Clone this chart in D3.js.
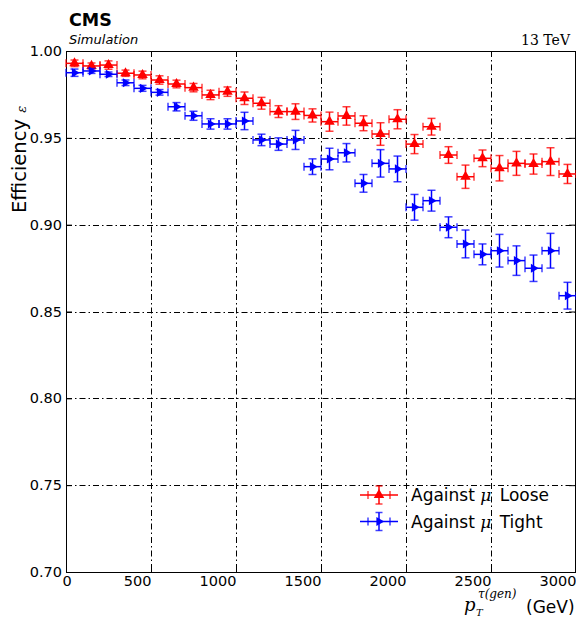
<!DOCTYPE html>
<html>
<head>
<meta charset="utf-8">
<script src="https://d3js.org/d3.v7.min.js"></script>
<style>
  body { margin: 0; background: #fff; }
  svg { font-family: "DejaVu Sans", sans-serif; }
</style>
</head>
<body>
<div id="chart"></div>
<script>
// gen-level tau pT bin centres (GeV) and half bin width
var binCenters = [50, 150, 250, 350, 450, 550, 650, 750, 850, 950,
                  1050, 1150, 1250, 1350, 1450, 1550, 1650, 1750, 1850, 1950,
                  2050, 2150, 2250, 2350, 2450, 2550, 2650, 2750, 2850, 2950];
var binHalfWidth = 50;

// Against mu Loose
var looseEff = [0.9929, 0.9914, 0.9919, 0.9872, 0.9862, 0.9833, 0.9810, 0.9789, 0.9747, 0.9766,
                0.9728, 0.9699, 0.9651, 0.9651, 0.9629, 0.9593, 0.9626, 0.9584, 0.9522, 0.9607,
                0.9464, 0.9564, 0.9401, 0.9276, 0.9382, 0.9325, 0.9353, 0.9349, 0.9363, 0.9292];
var looseErr = [0.0019, 0.0017, 0.0024, 0.0018, 0.0022, 0.0024, 0.0022, 0.0024, 0.0027, 0.0027,
                0.0036, 0.0034, 0.0034, 0.0045, 0.0038, 0.0055, 0.0053, 0.0043, 0.0065, 0.0055,
                0.0055, 0.0048, 0.0048, 0.0067, 0.0048, 0.0073, 0.0069, 0.0058, 0.0080, 0.0055];

// Against mu Tight
var tightEff = [0.9875, 0.9885, 0.9866, 0.9817, 0.9785, 0.9762, 0.9679, 0.9627, 0.9580, 0.9580,
                0.9597, 0.9488, 0.9464, 0.9488, 0.9334, 0.9378, 0.9414, 0.9238, 0.9353, 0.9321,
                0.9100, 0.9138, 0.8985, 0.8889, 0.8829, 0.8850, 0.8793, 0.8749, 0.8850, 0.8591];
var tightErr = [0.0021, 0.0014, 0.0013, 0.0016, 0.0017, 0.0016, 0.0024, 0.0026, 0.0030, 0.0030,
                0.0050, 0.0033, 0.0036, 0.0055, 0.0045, 0.0062, 0.0053, 0.0051, 0.0079, 0.0074,
                0.0074, 0.0060, 0.0060, 0.0080, 0.0060, 0.0094, 0.0085, 0.0076, 0.0100, 0.0077];

var seriesNames = ["Against \u03bc Loose", "Against \u03bc Tight"];
var seriesColors = ["#ff0000", "#0000ff"];

var xTicks = [0, 500, 1000, 1500, 2000, 2500, 3000];
var yTicks = [0.70, 0.75, 0.80, 0.85, 0.90, 0.95, 1.00];

(function () {
    var W = 576, H = 620;
    var pL = 66, pR = 576, pT = 51, pB = 572;

    var svg = d3.select("#chart").append("svg")
        .attr("width", W)
        .attr("height", H);

    var x = d3.scaleLinear().domain([0, 3000]).range([pL, pR]);
    var y = d3.scaleLinear().domain([0.70, 1.00]).range([pB, pT]);

    // grid (dash-dot)
    var grid = svg.append("g").attr("class", "grid")
        .attr("stroke", "#000").attr("stroke-width", 1)
        .attr("stroke-dasharray", "6,3,1.5,3");
    grid.selectAll("line.gx")
        .data(xTicks.slice(1, -1))
        .enter().append("line")
        .attr("class", "gx")
        .attr("x1", function (d) { return Math.round(x(d)) + 0.5; })
        .attr("x2", function (d) { return Math.round(x(d)) + 0.5; })
        .attr("y1", pT).attr("y2", pB);
    grid.selectAll("line.gy")
        .data(yTicks.slice(1, -1))
        .enter().append("line")
        .attr("class", "gy")
        .attr("y1", function (d) { return Math.round(y(d)) + 0.5; })
        .attr("y2", function (d) { return Math.round(y(d)) + 0.5; })
        .attr("x1", pL).attr("x2", pR);

    // axes
    var xAxis = svg.append("g")
        .attr("transform", "translate(0," + pB + ")")
        .call(d3.axisBottom(x).tickValues(xTicks).tickSize(-6).tickPadding(4).tickFormat(d3.format("d")));
    var yAxis = svg.append("g")
        .attr("transform", "translate(" + pL + ",0)")
        .call(d3.axisLeft(y).tickValues(yTicks).tickSize(-6).tickPadding(4).tickFormat(d3.format(".2f")));
    var topAxis = svg.append("g")
        .attr("transform", "translate(0," + pT + ")")
        .call(d3.axisTop(x).tickValues(xTicks).tickSize(-6).tickFormat(""));
    var rightAxis = svg.append("g")
        .attr("transform", "translate(" + (pR - 1) + ",0)")
        .call(d3.axisRight(y).tickValues(yTicks).tickSize(-6).tickFormat(""));

    [xAxis, yAxis, topAxis, rightAxis].forEach(function (a) {
        a.select(".domain").remove();
        a.selectAll("line").attr("stroke", "#000").attr("stroke-width", 1);
        a.selectAll("text")
            .attr("font-family", "DejaVu Sans, sans-serif")
            .attr("font-size", 14.5)
            .attr("fill", "#000");
    });
    xAxis.selectAll("text")
        .attr("text-anchor", function (d) { return d === 0 ? "middle" : "end"; })
        .attr("dx", function (d) { return d === 0 ? 0.5 : 0; });

    // frame
    svg.append("rect")
        .attr("x", pL + 0.5).attr("y", pT + 0.5)
        .attr("width", pR - pL - 1).attr("height", pB - pT)
        .attr("fill", "none").attr("stroke", "#000").attr("stroke-width", 1);

    var upTri = d3.symbol().type(d3.symbolTriangle).size(48)();
    var rightTri = d3.symbol().type(d3.symbolTriangle).size(36)();

    // error bar series
    function drawSeries(vals, errs, color, marker, rot) {
        var g = svg.append("g").attr("stroke", color).attr("fill", color);
        var pts = binCenters.map(function (c, i) { return { x: c, v: vals[i], e: errs[i] }; });
        var cap = 4;
        var pg = g.selectAll("g").data(pts).enter().append("g");
        // horizontal bars
        pg.append("line")
            .attr("x1", function (d) { return x(d.x - binHalfWidth); })
            .attr("x2", function (d) { return x(d.x + binHalfWidth); })
            .attr("y1", function (d) { return y(d.v); })
            .attr("y2", function (d) { return y(d.v); })
            .attr("stroke-width", 1.5);
        // vertical bars
        pg.append("line")
            .attr("x1", function (d) { return x(d.x); })
            .attr("x2", function (d) { return x(d.x); })
            .attr("y1", function (d) { return y(d.v - d.e); })
            .attr("y2", function (d) { return y(d.v + d.e); })
            .attr("stroke-width", 1.5);
        // caps
        [-1, 1].forEach(function (s) {
            pg.append("line")
                .attr("x1", function (d) { return x(d.x) - cap; })
                .attr("x2", function (d) { return x(d.x) + cap; })
                .attr("y1", function (d) { return y(d.v + s * d.e); })
                .attr("y2", function (d) { return y(d.v + s * d.e); })
                .attr("stroke-width", 1.5).attr("stroke-opacity", 0.75);
            pg.append("line")
                .attr("x1", function (d) { return x(d.x + s * binHalfWidth); })
                .attr("x2", function (d) { return x(d.x + s * binHalfWidth); })
                .attr("y1", function (d) { return y(d.v) - cap; })
                .attr("y2", function (d) { return y(d.v) + cap; })
                .attr("stroke-width", 1.5).attr("stroke-opacity", 0.75);
        });
        pg.append("path")
            .attr("d", marker)
            .attr("stroke", "none")
            .attr("transform", function (d) { return "translate(" + x(d.x) + "," + y(d.v) + ")" + (rot ? " rotate(90)" : ""); });
    }

    drawSeries(looseEff, looseErr, seriesColors[0], upTri, false);
    drawSeries(tightEff, tightErr, seriesColors[1], rightTri, true);

    // legend
    var legend = svg.append("g");
    var legendMarkers = [upTri, rightTri];
    seriesNames.forEach(function (name, i) {
        var ly = 495 + i * 26.5, lx = 379;
        var c = seriesColors[i];
        var lg = legend.append("g").attr("stroke", c).attr("fill", c);
        lg.append("line").attr("x1", 360).attr("x2", 398).attr("y1", ly).attr("y2", ly).attr("stroke-width", 1.5);
        lg.append("line").attr("x1", lx).attr("x2", lx).attr("y1", ly - 9).attr("y2", ly + 9).attr("stroke-width", 1.5);
        lg.append("line").attr("x1", lx - 3.5).attr("x2", lx + 3.5).attr("y1", ly - 9).attr("y2", ly - 9).attr("stroke-width", 1.5).attr("stroke-opacity", 0.75);
        lg.append("line").attr("x1", lx - 3.5).attr("x2", lx + 3.5).attr("y1", ly + 9).attr("y2", ly + 9).attr("stroke-width", 1.5).attr("stroke-opacity", 0.75);
        lg.append("line").attr("x1", 368).attr("x2", 368).attr("y1", ly - 4).attr("y2", ly + 4).attr("stroke-width", 1.5).attr("stroke-opacity", 0.75);
        lg.append("line").attr("x1", 390).attr("x2", 390).attr("y1", ly - 4).attr("y2", ly + 4).attr("stroke-width", 1.5).attr("stroke-opacity", 0.75);
        lg.append("path").attr("d", legendMarkers[i]).attr("stroke", "none")
            .attr("transform", "translate(" + lx + "," + ly + ")" + (i === 1 ? " rotate(90)" : ""));

        var parts = name.split("\u03bc");
        var t = legend.append("text")
            .attr("x", 411).attr("y", ly + 6)
            .attr("font-size", 17).attr("fill", "#000")
            .attr("xml:space", "preserve");
        t.append("tspan").text(parts[0]);
        t.append("tspan").attr("font-family", "DejaVu Serif, serif").attr("font-style", "italic").text("\u03bc");
        t.append("tspan").attr("dx", 3).text(parts[1]);
    });

    // header texts
    svg.append("text").attr("x", 69).attr("y", 26)
        .attr("font-size", 17.5).attr("font-weight", "bold").text("CMS");
    svg.append("text").attr("x", 69).attr("y", 44)
        .attr("font-size", 13).attr("font-style", "italic").text("Simulation");
    svg.append("text").attr("x", 570).attr("y", 45)
        .attr("text-anchor", "end")
        .attr("font-family", "DejaVu Serif, serif").attr("font-size", 14).text("13 TeV");

    // y label
    var yl = svg.append("text")
        .attr("transform", "translate(26,213) rotate(-90)")
        .attr("font-size", 19.5);
    yl.append("tspan").text("Efficiency ");
    yl.append("tspan").attr("font-family", "DejaVu Serif, serif").attr("font-style", "italic")
        .attr("font-size", 13).text("\u03b5");

    // x label
    svg.append("text").attr("x", 464).attr("y", 611)
        .attr("font-family", "DejaVu Serif, serif").attr("font-style", "italic")
        .attr("font-size", 18).text("p");
    svg.append("text").attr("x", 476).attr("y", 616)
        .attr("font-family", "DejaVu Serif, serif").attr("font-style", "italic")
        .attr("font-size", 10).text("T");
    svg.append("text").attr("x", 478).attr("y", 598)
        .attr("font-family", "DejaVu Serif, serif").attr("font-style", "italic")
        .attr("font-size", 12).text("\u03c4(gen)");
    svg.append("text").attr("x", 526).attr("y", 613)
        .attr("font-size", 17).text("(GeV)");
})();
</script>
</body>
</html>
